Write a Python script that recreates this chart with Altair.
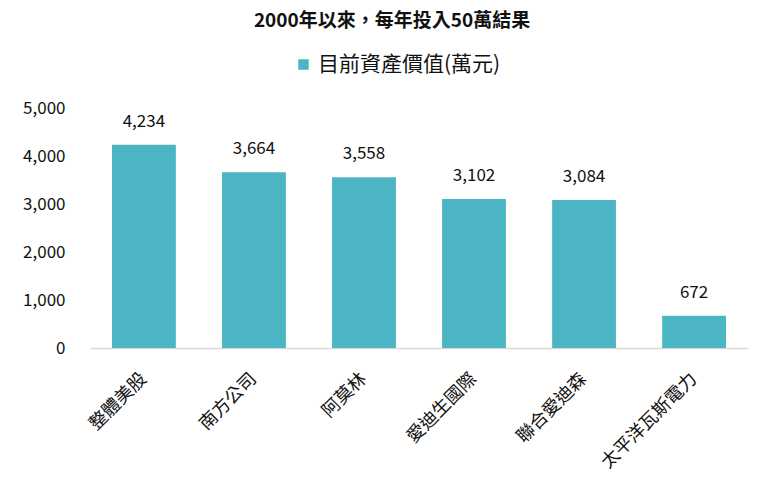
import altair as alt
import pandas as pd

categories = ["整體美股", "南方公司", "阿莫林", "愛迪生國際", "聯合愛迪森", "太平洋瓦斯電力"]
values = [4234, 3664, 3558, 3102, 3084, 672]
series_name = "目前資產價值(萬元)"
y_ticks = [0, 1000, 2000, 3000, 4000, 5000]

df = pd.DataFrame({"cat": categories, "val": values, "series": [series_name] * len(categories)})

FONT = "Noto Sans CJK TC"
TEAL = "#4BB5C3"

base = alt.Chart(df).encode(
    x=alt.X("cat:N", sort=categories, title=None,
            scale=alt.Scale(paddingInner=0.42, paddingOuter=0.2),
            axis=alt.Axis(labelAngle=-45, labelAlign="right", labelBaseline="middle",
                          labelFontSize=18, labelColor="#111", labelFont=FONT,
                          ticks=False, domainColor="#D9D9D9", domainWidth=1.5,
                          labelPadding=28, labelLimit=300)),
    y=alt.Y("val:Q", title=None,
            scale=alt.Scale(domain=[0, 5000]),
            axis=alt.Axis(values=y_ticks, format=",.0f", grid=False, domain=False, ticks=False,
                          labelFontSize=17, labelColor="#111", labelFont=FONT, labelPadding=25)),
)

bars = base.mark_bar(color=TEAL).encode(
    color=alt.Color("series:N", scale=alt.Scale(range=[TEAL]),
                    legend=alt.Legend(title=None, orient="none", legendX=203, legendY=-54,
                                      symbolType="square", symbolSize=110, labelFontSize=21,
                                      labelLimit=400, labelFont=FONT, labelColor="#111",
                                      direction="horizontal"))
)
labels = base.mark_text(dy=-23, fontSize=17, font=FONT, color="#111").encode(
    text=alt.Text("val:Q", format=",")
)

chart = (bars + labels).properties(
    width=658, height=240,
    autosize=alt.AutoSizeParams(type="none"),
    padding={"left": 82, "top": 100, "right": 4, "bottom": 130},
    title=alt.TitleParams("2000年以來，每年投入50萬結果", fontSize=19, font=FONT,
                          fontWeight="bold", color="#111", dx=-27, offset=23),
).configure_view(stroke=None)

chart.save("out.html", embed_options={"renderer": "svg", "actions": False})
